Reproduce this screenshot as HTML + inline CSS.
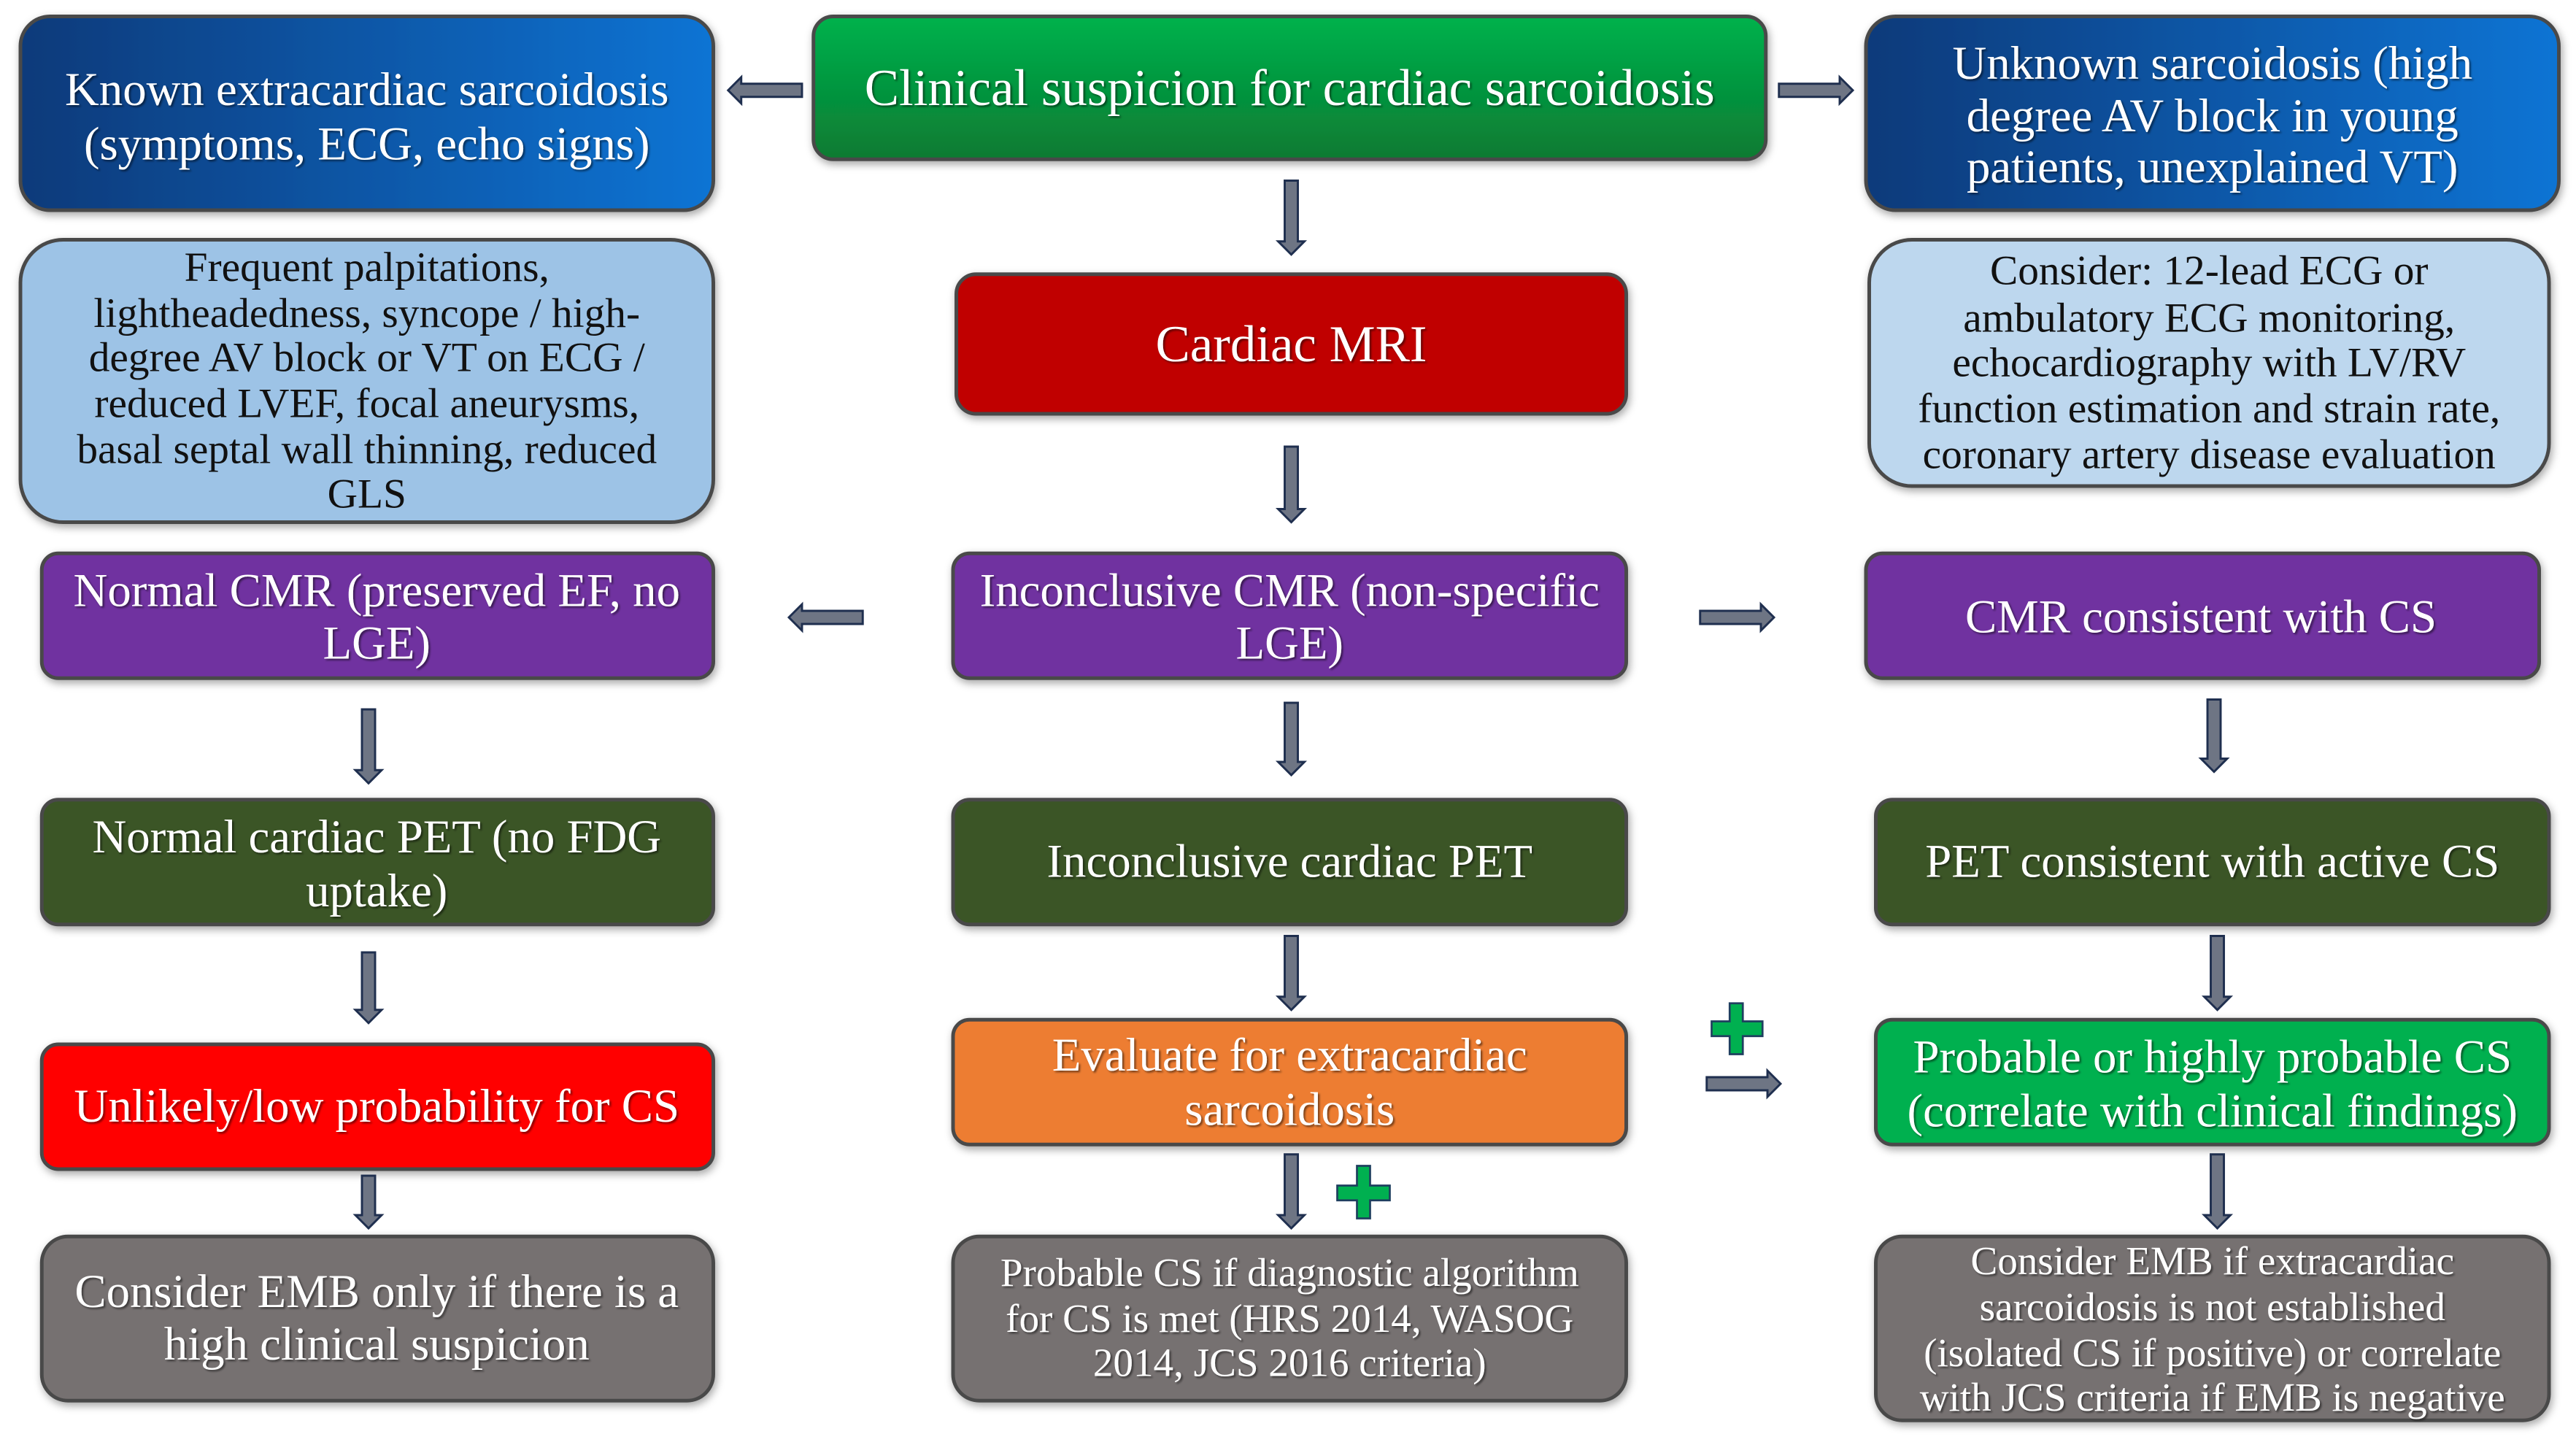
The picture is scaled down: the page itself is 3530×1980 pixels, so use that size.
<!DOCTYPE html>
<html><head><meta charset="utf-8"><style>
html,body{margin:0;padding:0;background:#fff;}
svg{display:block;}
text{font-family:"Liberation Serif",serif;text-anchor:middle;}
.w{fill:#fff;font-size:28.8px;filter:url(#ts);}
.b{fill:#111;font-size:25.5px;}
.box{stroke:#4a4a4a;stroke-width:2.2;filter:url(#sh);}
.arr{fill:#6e7584;stroke:#1f2f4f;stroke-width:1.3;}
</style></head><body>
<svg width="3530" height="1980" viewBox="0 0 1568 880" xmlns="http://www.w3.org/2000/svg">
<defs>
<linearGradient id="blue" x1="0" x2="1" y1="0" y2="0"><stop offset="0" stop-color="#0a3a7a"/><stop offset="1" stop-color="#0a74d4"/></linearGradient>
<linearGradient id="grn" x1="0" x2="0" y1="0" y2="1"><stop offset="0" stop-color="#00b24c"/><stop offset="1" stop-color="#0a7a32"/></linearGradient>
<filter id="sh" x="-10%" y="-20%" width="120%" height="140%"><feDropShadow dx="1" dy="2" stdDeviation="2.5" flood-color="#000" flood-opacity="0.35"/></filter>
<filter id="ts"><feDropShadow dx="1" dy="1" stdDeviation="0.6" flood-color="#000" flood-opacity="0.5"/></filter>
</defs>

<!-- Row 1 -->
<rect class="box" x="12" y="10" width="422" height="118" rx="18" fill="url(#blue)"/>
<text class="w"><tspan x="223" y="64">Known extracardiac sarcoidosis</tspan><tspan x="223" y="97">(symptoms, ECG, echo signs)</tspan></text>
<rect class="box" x="495" y="10" width="580" height="87" rx="12" fill="url(#grn)"/>
<text class="w" x="785" y="64" style="font-size:31.5px">Clinical  suspicion  for cardiac sarcoidosis</text>
<rect class="box" x="1136" y="10" width="422" height="118" rx="18" fill="url(#blue)"/>
<text class="w"><tspan x="1347" y="48">Unknown sarcoidosis (high</tspan><tspan x="1347" y="80">degree AV block in young</tspan><tspan x="1347" y="111">patients, unexplained VT)</tspan></text>

<!-- Row 2 -->
<rect class="box" x="12" y="146" width="422" height="172" rx="26" fill="#9dc3e6"/>
<text class="b"><tspan x="223" y="171">Frequent palpitations,</tspan><tspan x="223" y="199">lightheadedness, syncope / high-</tspan><tspan x="223" y="226">degree AV block or VT on ECG /</tspan><tspan x="223" y="254">reduced LVEF,  focal aneurysms,</tspan><tspan x="223" y="282">basal septal wall thinning, reduced</tspan><tspan x="223" y="309">GLS</tspan></text>
<rect class="box" x="582" y="167" width="408" height="85" rx="12" fill="#c00000"/>
<text class="w" x="786" y="220" style="font-size:31.5px">Cardiac MRI</text>
<rect class="box" x="1138" y="146" width="414" height="150" rx="26" fill="#bdd7ee"/>
<text class="b"><tspan x="1345" y="173">Consider: 12-lead ECG or</tspan><tspan x="1345" y="202">ambulatory ECG monitoring,</tspan><tspan x="1345" y="229">echocardiography  with LV/RV</tspan><tspan x="1345" y="257">function estimation and strain rate,</tspan><tspan x="1345" y="285">coronary artery disease evaluation</tspan></text>

<!-- Row 3 -->
<rect class="box" x="25" y="337" width="409" height="76" rx="10" fill="#7030a0"/>
<text class="w"><tspan x="229" y="369">Normal CMR (preserved EF, no</tspan><tspan x="229" y="401">LGE)</tspan></text>
<rect class="box" x="580" y="337" width="410" height="76" rx="10" fill="#7030a0"/>
<text class="w"><tspan x="785" y="369">Inconclusive CMR (non-specific</tspan><tspan x="785" y="401">LGE)</tspan></text>
<rect class="box" x="1136" y="337" width="410" height="76" rx="10" fill="#7030a0"/>
<text class="w" x="1340" y="385">CMR consistent with CS</text>

<!-- Row 4 -->
<rect class="box" x="25" y="487" width="409" height="76" rx="10" fill="#3a5425"/>
<text class="w"><tspan x="229" y="519">Normal cardiac PET (no FDG</tspan><tspan x="229" y="552">uptake)</tspan></text>
<rect class="box" x="580" y="487" width="410" height="76" rx="10" fill="#3a5425"/>
<text class="w" x="785" y="534">Inconclusive cardiac PET</text>
<rect class="box" x="1142" y="487" width="410" height="76" rx="10" fill="#3a5425"/>
<text class="w" x="1347" y="534">PET consistent with active CS</text>

<!-- Row 5 -->
<rect class="box" x="25" y="636" width="409" height="76" rx="10" fill="#ff0000"/>
<text class="w" x="229" y="683">Unlikely/low probability for CS</text>
<rect class="box" x="580" y="621" width="410" height="76" rx="10" fill="#ed7d31"/>
<text class="w"><tspan x="785" y="652">Evaluate for extracardiac</tspan><tspan x="785" y="685">sarcoidosis</tspan></text>
<rect class="box" x="1142" y="621" width="410" height="76" rx="10" fill="#00b050"/>
<text class="w"><tspan x="1347" y="653">Probable or highly probable CS</tspan><tspan x="1347" y="686">(correlate with clinical findings)</tspan></text>

<!-- Row 6 -->
<rect class="box" x="25" y="753" width="409" height="100" rx="16" fill="#767171"/>
<text class="w"><tspan x="229" y="796">Consider EMB only if there is a</tspan><tspan x="229" y="828">high clinical suspicion</tspan></text>
<rect class="box" x="580" y="753" width="410" height="100" rx="16" fill="#767171"/>
<text class="w" style="font-size:24.5px"><tspan x="785" y="783">Probable CS if diagnostic  algorithm</tspan><tspan x="785" y="811">for CS is met (HRS 2014, WASOG</tspan><tspan x="785" y="838">2014, JCS 2016 criteria)</tspan></text>
<rect class="box" x="1142" y="753" width="410" height="112" rx="16" fill="#767171"/>
<text class="w" style="font-size:24.5px"><tspan x="1347" y="776">Consider  EMB if extracardiac</tspan><tspan x="1347" y="804">sarcoidosis  is not established</tspan><tspan x="1347" y="832">(isolated  CS if positive) or correlate</tspan><tspan x="1347" y="859">with JCS criteria  if EMB is negative</tspan></text>

<g class="arr">
<polygon points="782,110 790,110 790,147 794,147 786,155 778,147 782,147"/>
<polygon points="782,272 790,272 790,310 794,310 786,318 778,310 782,310"/>
<polygon points="782,428 790,428 790,464 794,464 786,472 778,464 782,464"/>
<polygon points="220,432 228,432 228,469 232,469 224,477 216,469 220,469"/>
<polygon points="1344,426 1352,426 1352,462 1356,462 1348,470 1340,462 1344,462"/>
<polygon points="220,580 228,580 228,615 232,615 224,623 216,615 220,615"/>
<polygon points="782,570 790,570 790,607 794,607 786,615 778,607 782,607"/>
<polygon points="1346,570 1354,570 1354,607 1358,607 1350,615 1342,607 1346,607"/>
<polygon points="220,716 228,716 228,740 232,740 224,748 216,740 220,740"/>
<polygon points="782,703 790,703 790,740 794,740 786,748 778,740 782,740"/>
<polygon points="1346,703 1354,703 1354,740 1358,740 1350,748 1342,740 1346,740"/>
<polygon points="488,51 488,59 451,59 451,63 443,55 451,47 451,51"/>
<polygon points="1083,51 1083,59 1120,59 1120,63 1128,55 1120,47 1120,51"/>
<polygon points="525,372 525,380 488,380 488,384 480,376 488,368 488,372"/>
<polygon points="1035,372 1035,380 1072,380 1072,384 1080,376 1072,368 1072,372"/>
<polygon points="1039,656 1039,664 1076,664 1076,668 1084,660 1076,652 1076,656"/>
</g>
<g fill="#00b050" stroke="#1f3f5f" stroke-width="1.2">
<polygon points="1053,611 1061,611 1061,622 1073,622 1073,631 1061,631 1061,642 1053,642 1053,631 1042,631 1042,622 1053,622"/>
<polygon points="826,710 834,710 834,722 846,722 846,731 834,731 834,742 826,742 826,731 814,731 814,722 826,722"/>
</g>
</svg>
</body></html>
